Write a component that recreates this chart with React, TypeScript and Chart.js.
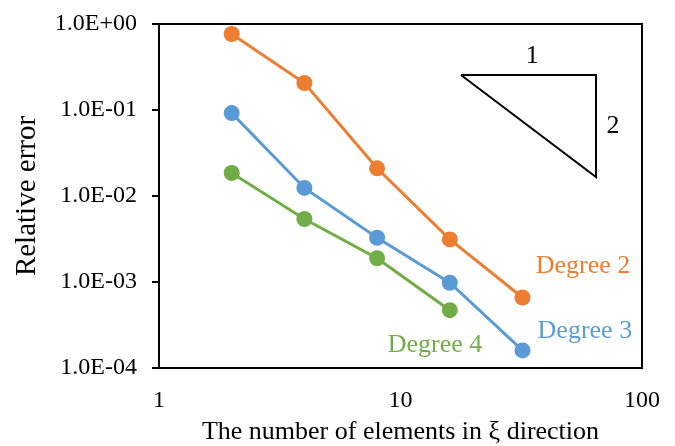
import React, { useEffect, useRef } from "react";
import { Chart, registerables } from "chart.js";

Chart.register(...registerables);

const elements = [2, 4, 8, 16, 32];
const degree2 = [0.765, 0.206, 0.021, 0.00313, 0.00066];
const degree3 = [0.092, 0.0124, 0.00327, 0.00098, 0.00016];
const degree4 = [0.0185, 0.0054, 0.00189, 0.00047];
const xTicks = [1, 10, 100];
const yTicks = [1e-4, 1e-3, 1e-2, 1e-1, 1];
const slopeX = [17.8, 64.5];
const slopeY = [0.255, 0.0166];

const ORANGE = "#ED7D31";
const BLUE = "#5B9BD5";
const GREEN = "#70AD47";
const FONT = "'Liberation Serif', 'Times New Roman', serif";

// text annotations: [text, x, y(baseline), color]
const notes: [string, number, number, string][] = [
  ["Degree 2", 57, 0.00127, ORANGE],
  ["Degree 3", 58, 0.000223, BLUE],
  ["Degree 4", 13.9, 0.000153, GREEN],
  ["1", 35.1, 0.352, "#000"],
  ["2", 75.9, 0.054, "#000"],
];

function fmtE(v: number) {
  const e = Math.round(Math.log10(v));
  return "1.0E" + (e >= 0 ? "+" : "-") + String(Math.abs(e)).padStart(2, "0");
}

const pts = (ys: number[]) => ys.map((y, i) => ({ x: elements[i], y }));

const boxPlugin = {
  id: "boxAndNotes",
  afterDatasetsDraw(chart: any) {
    const { ctx, chartArea, scales } = chart;
    ctx.save();
    ctx.strokeStyle = "#000";
    ctx.lineWidth = 2;
    ctx.strokeRect(chartArea.left, chartArea.top, chartArea.right - chartArea.left, chartArea.bottom - chartArea.top);
    ctx.font = `26px ${FONT}`;
    ctx.textAlign = "center";
    ctx.textBaseline = "alphabetic";
    for (const [t, x, y, c] of notes) {
      ctx.fillStyle = c;
      ctx.fillText(t, scales.x.getPixelForValue(x), scales.y.getPixelForValue(y));
    }
    ctx.restore();
  },
};

export default function App() {
  const ref = useRef<HTMLCanvasElement>(null);
  useEffect(() => {
    document.body.style.margin = "0";
    const series = (label: string, ys: number[], color: string) => ({
      label,
      data: pts(ys),
      borderColor: color,
      backgroundColor: color,
      borderWidth: 3,
      pointRadius: 8,
      pointHoverRadius: 8,
      pointBorderWidth: 0,
      tension: 0,
    });
    const chart = new Chart(ref.current!, {
      type: "line",
      data: {
        datasets: [
          series("Degree 2", degree2, ORANGE),
          series("Degree 3", degree3, BLUE),
          series("Degree 4", degree4, GREEN),
          {
            label: "slope",
            data: [
              { x: slopeX[0], y: slopeY[0] },
              { x: slopeX[1], y: slopeY[0] },
              { x: slopeX[1], y: slopeY[1] },
              { x: slopeX[0], y: slopeY[0] },
            ],
            borderColor: "#000",
            borderWidth: 2,
            pointRadius: 0,
            tension: 0,
          },
        ],
      },
      options: {
        animation: false,
        responsive: false,
        layout: { padding: { top: 24, right: 33, left: 0, bottom: 0 } },
        plugins: { legend: { display: false }, tooltip: { enabled: false } },
        scales: {
          x: {
            type: "logarithmic",
            min: 1,
            max: 100,
            afterBuildTicks: (s: any) => {
              s.ticks = xTicks.map((v) => ({ value: v }));
            },
            afterFit: (s: any) => {
              s.height = 78;
              s.paddingLeft = 0;
              s.paddingRight = 0;
            },
            grid: { display: false, drawTicks: false },
            border: { display: false },
            ticks: {
              color: "#000",
              font: { family: FONT, size: 24 },
              padding: 18,
              maxRotation: 0,
              callback: (v: any) => String(v),
            },
            title: {
              display: true,
              text: "The number of elements in ξ direction",
              color: "#000",
              font: { family: FONT, size: 26, lineHeight: 1.1 },
              padding: { top: 0, bottom: 0 },
            },
          },
          y: {
            type: "logarithmic",
            min: 1e-4,
            max: 1,
            afterBuildTicks: (s: any) => {
              s.ticks = yTicks.map((v) => ({ value: v }));
            },
            afterFit: (s: any) => {
              s.width = 159;
              s.paddingTop = 0;
              s.paddingBottom = 0;
            },
            grid: { drawOnChartArea: false, drawTicks: true, tickLength: 7, color: "#000", lineWidth: 2 },
            border: { display: true, color: "#000", width: 2 },
            ticks: {
              color: "#000",
              font: { family: FONT, size: 24 },
              padding: 15,
              callback: (v: any) => fmtE(Number(v)),
            },
            title: {
              display: true,
              text: "Relative error",
              color: "#000",
              font: { family: FONT, size: 29 },
              padding: { top: 10, bottom: 0 },
            },
          },
        },
      },
      plugins: [boxPlugin],
    } as any);
    return () => chart.destroy();
  }, []);
  return <canvas ref={ref} width={675} height={446} style={{ display: "block" }} />;
}
